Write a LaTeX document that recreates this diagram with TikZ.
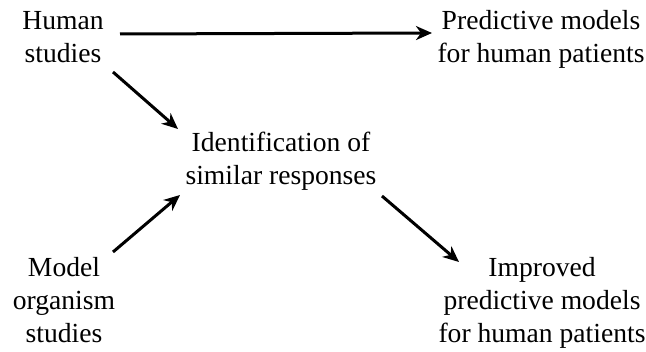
\documentclass[tikz,border=0pt]{standalone}
\usepackage{fontspec}
\setmainfont{Liberation Serif}
\usetikzlibrary{arrows.meta}
\begin{document}
\begin{tikzpicture}[x=1pt,y=-1pt,
  lbl/.style={align=center,inner sep=0pt,anchor=base,font=\fontsize{27.6}{33}\selectfont},
  arr/.style={line width=3pt,-{Stealth[length=16pt,width=14pt,inset=5pt]}}]
\clip (0,0) rectangle (646,352);
\node[lbl] (hs) at (63,63) {Human\\studies};
\node[lbl] (pm) at (541,63) {Predictive models\\for human patients};
\node[lbl] (id) at (281,185) {Identification of\\similar responses};
\node[lbl] (mo) at (64,343) {Model\\organism\\studies};
\node[lbl] (ip) at (542,343) {Improved\\predictive models\\for human patients};
\draw[arr] ([shift={(57,-29)}]hs.base) -- ([shift={(-109,-30)}]pm.base);
\draw[arr] ([shift={(50,9)}]hs.base) -- ([shift={(-103,-56)}]id.base);
\draw[arr] ([shift={(101,11)}]id.base) -- ([shift={(-83,-81)}]ip.base);
\draw[arr] ([shift={(49,-91)}]mo.base) -- ([shift={(-101,10)}]id.base);
\end{tikzpicture}
\end{document}
